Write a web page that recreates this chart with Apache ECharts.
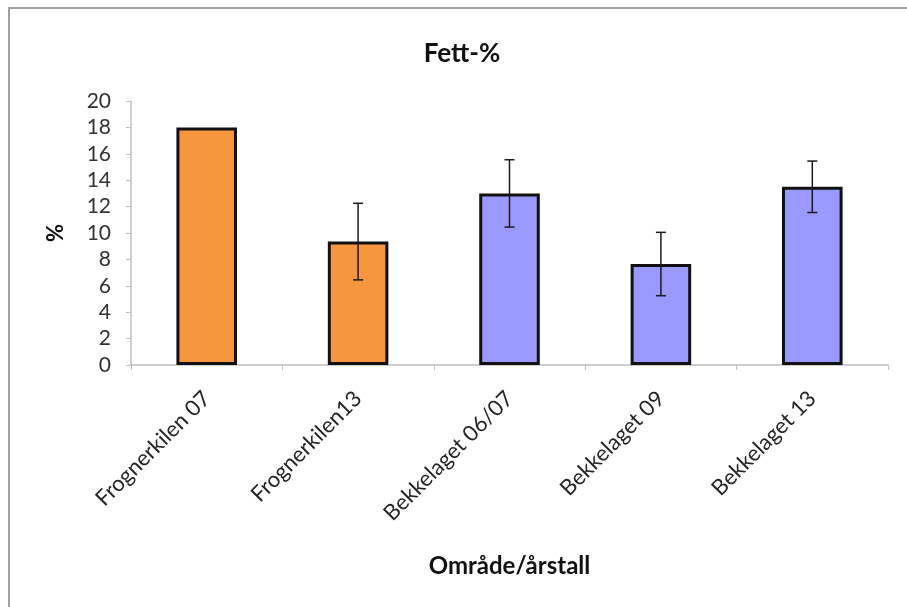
<!DOCTYPE html>
<html>
<head>
<meta charset="utf-8">
<script src="https://cdn.jsdelivr.net/npm/echarts@6/dist/echarts.min.js"></script>
<style>html,body{margin:0;padding:0;background:#fff}#c{width:907px;height:607px}</style>
</head>
<body>
<div id="c"></div>
<script>
var categories = ['Frognerkilen 07', 'Frognerkilen13', 'Bekkelaget 06/07', 'Bekkelaget 09', 'Bekkelaget 13'];
var groups = ['Frognerkilen', 'Frognerkilen', 'Bekkelaget', 'Bekkelaget', 'Bekkelaget'];
var values = [18.0, 9.35, 13.0, 7.65, 13.5];
var errors = [null, 2.9, 2.55, 2.4, 1.95];
var yTicks = [0, 2, 4, 6, 8, 10, 12, 14, 16, 18, 20];

var groupColors = { 'Frognerkilen': '#F8953F', 'Bekkelaget': '#9999FF' };
var FONT = 'Lato, "Open Sans", sans-serif';

var chart = echarts.init(document.getElementById('c'), null, { renderer: 'canvas' });

var errData = categories.map(function (c, i) {
  return errors[i] == null ? [i, values[i], values[i]] : [i, values[i] - errors[i], values[i] + errors[i]];
});

chart.setOption({
  animation: false,
  backgroundColor: '#fff',
  graphic: [{
    type: 'rect',
    shape: { x: 9, y: 8, width: 910, height: 610 },
    style: { fill: 'none', stroke: '#a0a0a0', lineWidth: 2 },
    silent: true
  }],
  title: {
    text: 'Fett-%',
    left: 457, top: 36, textAlign: 'center',
    textStyle: { fontFamily: FONT, fontWeight: 'bold', fontSize: 26, color: '#111' }
  },
  grid: { left: 131, right: 19, top: 101, bottom: 242, containLabel: false },
  xAxis: {
    type: 'category',
    data: categories,
    boundaryGap: true,
    name: 'Område/årstall',
    nameLocation: 'middle',
    nameGap: 189,
    nameTextStyle: { fontFamily: FONT, fontWeight: 'bold', fontSize: 24, color: '#111' },
    axisLine: { lineStyle: { color: '#bfbfbf', width: 1.5 } },
    axisTick: { show: true, alignWithLabel: false, length: 5, lineStyle: { color: '#bfbfbf' } },
    axisLabel: { rotate: 45, fontFamily: FONT, fontSize: 22, color: '#262626', margin: 30, interval: 0 }
  },
  yAxis: {
    type: 'value',
    min: 0, max: 20, interval: 2,
    name: '%',
    nameLocation: 'middle',
    nameGap: 64,
    nameRotate: 90,
    nameTextStyle: { fontFamily: FONT, fontWeight: 'bold', fontSize: 22, color: '#111' },
    axisLine: { show: true, lineStyle: { color: '#bfbfbf', width: 1.5 } },
    axisTick: { show: true, length: 5, lineStyle: { color: '#bfbfbf' } },
    splitLine: { show: false },
    axisLabel: {
      fontFamily: FONT, fontSize: 21, color: '#333', margin: 20,
      formatter: function (v) { return yTicks.indexOf(v) >= 0 ? String(v) : ''; }
    }
  },
  series: [{
    type: 'bar',
    data: values,
    barWidth: '40%',
    itemStyle: {
      color: function (p) { return groupColors[groups[p.dataIndex]]; },
      borderColor: '#111',
      borderWidth: 3
    }
  }, {
    type: 'custom',
    data: errData,
    z: 10,
    renderItem: function (params, api) {
      var i = api.value(0);
      if (errors[i] == null) return null;
      var lo = api.coord([i, api.value(1)]);
      var hi = api.coord([i, api.value(2)]);
      var x = lo[0], cap = 5;
      var st = { stroke: '#1a1a1a', lineWidth: 1.5 };
      return {
        type: 'group',
        children: [
          { type: 'line', shape: { x1: x, y1: lo[1], x2: x, y2: hi[1] }, style: st },
          { type: 'line', shape: { x1: x - cap, y1: hi[1], x2: x + cap, y2: hi[1] }, style: st },
          { type: 'line', shape: { x1: x - cap, y1: lo[1], x2: x + cap, y2: lo[1] }, style: st }
        ]
      };
    }
  }]
});
</script>
</body>
</html>
